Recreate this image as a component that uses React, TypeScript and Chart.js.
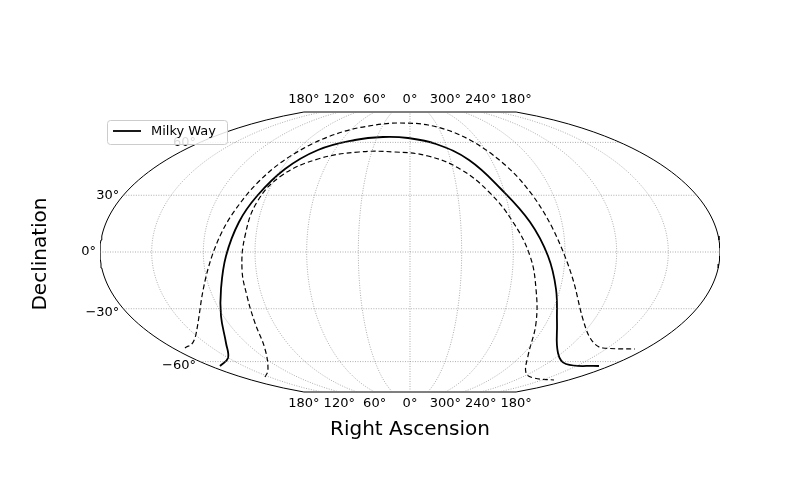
import { useEffect, useRef } from "react";
import { Chart, registerables } from "chart.js";

Chart.register(...registerables);

// projected sky coordinates (x right, y up, map units)
const milkyX = [-190, -182, -184, -189, -189, -184, -171, -153, -125, -92, -55, -27, -2, 26, 59, 91, 120, 138, 146, 147, 148, 156, 189];
const milkyY = [-114, -106, -91, -64, -37, -4, 30, 56, 83, 102, 112, 115, 114, 108, 92, 63, 30, -4, -37, -71, -101, -112, -114];
const outerX = [-225, -215, -212, -208, -202, -190, -169, -141, -104, -68, -35, -11, 18, 50, 83, 112, 136, 152, 164, 172, 179, 193, 225];
const outerY = [-96, -86, -71, -44, -17, 16, 50, 80, 105, 120, 127, 129, 127, 117, 97, 70, 36, 3, -31, -64, -84, -96, -97];
const innerX = [-145, -142, -145, -155, -163, -168, -165, -153, -129, -92, -51, -15, 18, 50, 79, 103, 120, 126, 126, 118, 116, 124, 144];
const innerY = [-125, -118, -97, -71, -44, -17, 16, 50, 76, 93, 100, 100, 96, 83, 60, 30, -4, -37, -71, -104, -121, -126, -128];

const meridians = [-150, -120, -90, -60, -30, 0, 30, 60, 90, 120, 150];
const parallels = [-60, -30, 0, 30, 60];
const raLon = [180, 120, 60, 0, -60, -120, -180];
const raLabels = ["180°", "120°", "60°", "0°", "300°", "240°", "180°"];
const decLabels = ["−60°", "−30°", "0°", "30°", "60°"];

const HALF_W = 310;
const B = 149;
const CLIP = 140;

const decToY = (d: number) => {
  const r = (d * Math.PI) / 180;
  return (155 * Math.sin(r)) / Math.sqrt(1 + Math.cos(r));
};
const edgeX = (y: number) => HALF_W * Math.sqrt(Math.max(0, 1 - (y / B) ** 2));

function meridianPts(lon: number) {
  const pts = [];
  for (let y = -CLIP; y <= CLIP; y += 4) pts.push({ x: (-lon / 180) * edgeX(y), y });
  return pts;
}

function outlinePts() {
  const pts = [];
  for (let y = -CLIP; y <= CLIP; y += 4) pts.push({ x: -edgeX(y), y });
  for (let y = CLIP; y >= -CLIP; y -= 4) pts.push({ x: edgeX(y), y });
  pts.push(pts[0]);
  return pts;
}

const zip = (xs: number[], ys: number[]) => xs.map((x, i) => ({ x, y: ys[i] }));

const labelPlugin = {
  id: "skyLabels",
  afterDraw(chart: Chart) {
    const { ctx, scales } = chart;
    const sx = (v: number) => scales.x.getPixelForValue(v);
    const sy = (v: number) => scales.y.getPixelForValue(v);
    ctx.save();
    ctx.fillStyle = "#000";
    ctx.font = "13px 'DejaVu Sans'";
    ctx.textAlign = "center";
    ctx.textBaseline = "middle";
    const topX = edgeX(CLIP);
    raLon.forEach((lon, i) => {
      const x = sx((-lon / 180) * topX);
      ctx.fillText(raLabels[i], x, sy(CLIP) - 12);
      ctx.fillText(raLabels[i], x, sy(-CLIP) + 12);
    });
    ctx.textAlign = "right";
    parallels.forEach((d, i) => {
      const y = decToY(d);
      ctx.fillText(decLabels[i], sx(-edgeX(y)) - 4, sy(y) + (d < 0 ? 4 : 0));
    });
    ctx.font = "20px 'DejaVu Sans'";
    ctx.textAlign = "center";
    ctx.fillText("Right Ascension", 410, 430);
    ctx.translate(41, 254);
    ctx.rotate(-Math.PI / 2);
    ctx.fillText("Declination", 0, 0);
    ctx.restore();

    // legend
    ctx.save();
    ctx.fillStyle = "rgba(255,255,255,0.85)";
    ctx.strokeStyle = "#ccc";
    ctx.lineWidth = 1;
    ctx.beginPath();
    ctx.roundRect(107.5, 120.5, 120, 24, 3);
    ctx.fill();
    ctx.stroke();
    ctx.strokeStyle = "#000";
    ctx.lineWidth = 1.8;
    ctx.beginPath();
    ctx.moveTo(113, 131);
    ctx.lineTo(141, 131);
    ctx.stroke();
    ctx.fillStyle = "#000";
    ctx.font = "13px 'DejaVu Sans'";
    ctx.textBaseline = "middle";
    ctx.fillText("Milky Way", 151, 132);
    ctx.restore();
  },
};

export default function App() {
  const ref = useRef<HTMLCanvasElement>(null);

  useEffect(() => {
    if (!ref.current) return;
    const grid = { borderColor: "#777", borderWidth: 0.6, borderDash: [1, 1.5], showLine: true, pointRadius: 0, fill: false };
    const datasets: any[] = [];
    meridians.forEach((m) => datasets.push({ ...grid, data: meridianPts(m) }));
    parallels.forEach((d) => {
      const y = decToY(d);
      datasets.push({ ...grid, data: [{ x: -edgeX(y), y }, { x: edgeX(y), y }] });
    });
    datasets.push({ data: outlinePts(), showLine: true, pointRadius: 0, borderColor: "#000", borderWidth: 1 });
    datasets.push({ data: zip(outerX, outerY), showLine: true, pointRadius: 0, borderColor: "#000", borderWidth: 1.2, borderDash: [5, 3], cubicInterpolationMode: "monotone", tension: 0.4 });
    datasets.push({ data: zip(innerX, innerY), showLine: true, pointRadius: 0, borderColor: "#000", borderWidth: 1.2, borderDash: [5, 3], tension: 0.4 });
    datasets.push({ label: "Milky Way", data: zip(milkyX, milkyY), showLine: true, pointRadius: 0, borderColor: "#000", borderWidth: 1.8, tension: 0.4 });

    const chart = new Chart(ref.current, {
      type: "scatter",
      data: { datasets },
      options: {
        responsive: false,
        animation: false,
        layout: { padding: { left: 100, right: 80, top: 97, bottom: 93 } },
        plugins: { legend: { display: false }, tooltip: { enabled: false } },
        scales: {
          x: { display: false, min: -HALF_W, max: HALF_W },
          y: { display: false, min: -155, max: 155 },
        },
      },
      plugins: [labelPlugin],
    });
    return () => chart.destroy();
  }, []);

  return (
    <div style={{ position: "fixed", left: 0, top: 0, width: 800, height: 500, background: "#fff" }}>
      <canvas ref={ref} width={800} height={500} />
    </div>
  );
}
